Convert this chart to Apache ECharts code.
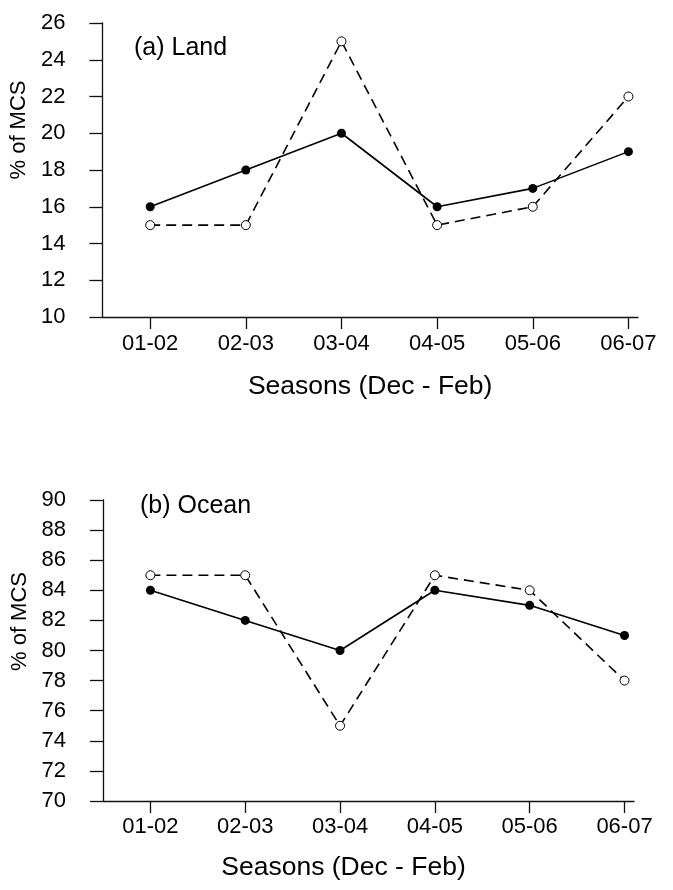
<!DOCTYPE html>
<html lang="en">
<head>
    <meta charset="UTF-8">
    <title>MCS seasons</title>
    <script type="text/javascript" src="https://cdn.jsdelivr.net/npm/echarts@6/dist/echarts.min.js"></script>
    <style>
        *{
            margin:0;
            padding:0;
        }
        #main {
            width:673px;
            height:890px;
            background-color:#fff;
        }
    </style>
</head>
<body>
<div id="main"></div>
<script type="text/javascript">
    // 数据
    var seasons = ['01-02', '02-03', '03-04', '04-05', '05-06', '06-07'];
    var landSolid = [16, 18, 20, 16, 17, 19];
    var landDashed = [15, 15, 25, 15, 16, 22];
    var oceanSolid = [84, 82, 80, 84, 83, 81];
    var oceanDashed = [85, 85, 75, 85, 84, 78];
    var seasonIdx = [0, 1, 2, 3, 4, 5];

    var FONT = 'Liberation Sans, Arial, sans-serif';

    function pairs(arr) {
        return arr.map(function (v, i) { return [i, v]; });
    }

    function xAx(gridIndex, margin, gap, pad) {
        return {
            type: 'value',
            gridIndex: gridIndex,
            min: -0.5,
            max: 5.1,
            splitLine: {show: false},
            axisLine: {onZero: false, lineStyle: {color: '#111', width: 1.3}},
            axisTick: {show: true, length: 12, customValues: seasonIdx, lineStyle: {color: '#111', width: 1.3}},
            axisLabel: {
                customValues: seasonIdx,
                margin: margin,
                fontSize: 22,
                fontFamily: FONT,
                color: '#000',
                formatter: function (v) { return seasons[v]; }
            },
            name: 'Seasons (Dec - Feb)',
            nameLocation: 'middle',
            nameGap: gap,
            nameTextStyle: {fontSize: 26.5, fontFamily: FONT, color: '#000', padding: pad}
        };
    }

    function yAx(gridIndex, min, max, gap, pad) {
        return {
            type: 'value',
            gridIndex: gridIndex,
            min: min,
            max: max,
            interval: 2,
            splitLine: {show: false},
            axisLine: {show: true, onZero: false, lineStyle: {color: '#111', width: 1.3}},
            axisTick: {show: true, length: 13, lineStyle: {color: '#111', width: 1.3}},
            axisLabel: {margin: 37, fontSize: 22, fontFamily: FONT, color: '#000'},
            name: '% of MCS',
            nameLocation: 'middle',
            nameRotate: 90,
            nameGap: gap,
            nameTextStyle: {fontSize: 22, fontFamily: FONT, color: '#000', padding: pad}
        };
    }

    function solid(name, data, idx) {
        return {
            name: name, type: 'line', xAxisIndex: idx, yAxisIndex: idx,
            data: pairs(data),
            symbol: 'circle', symbolSize: 9,
            itemStyle: {color: '#000'},
            lineStyle: {color: '#000', width: 1.6},
            silent: true, z: 3
        };
    }

    function dashed(name, data, idx) {
        return {
            name: name, type: 'line', xAxisIndex: idx, yAxisIndex: idx,
            data: pairs(data),
            symbol: 'circle', symbolSize: 9,
            itemStyle: {color: '#fff', borderColor: '#000', borderWidth: 1},
            lineStyle: {color: '#000', width: 1.6, type: [10, 6]},
            silent: true, z: 2
        };
    }

    var myChart = echarts.init(document.getElementById('main'));

    var option = {
        animation: false,
        title: [
            {text: '(a) Land', left: 129, top: 31,
                textStyle: {fontSize: 25, fontWeight: 'normal', fontFamily: FONT, color: '#000'}},
            {text: '(b) Ocean', left: 135, top: 489,
                textStyle: {fontSize: 25, fontWeight: 'normal', fontFamily: FONT, color: '#000'}}
        ],
        grid: [
            {left: 100, width: 538, top: 23, height: 294},
            {left: 103, width: 531, top: 500, height: 301}
        ],
        xAxis: [
            xAx(0, 16, 56, [0, 0, 0, 0]),
            xAx(1, 15, 53, [0, 50, 0, 0])
        ],
        yAxis: [
            yAx(0, 10, 26, 63, [0, 0, 0, 80]),
            yAx(1, 70, 90, 71, [0, 0, 0, 58])
        ],
        series: [
            dashed('land-open', landDashed, 0),
            solid('land-filled', landSolid, 0),
            dashed('ocean-open', oceanDashed, 1),
            solid('ocean-filled', oceanSolid, 1)
        ]
    };

    myChart.setOption(option);
</script>
</body>
</html>
